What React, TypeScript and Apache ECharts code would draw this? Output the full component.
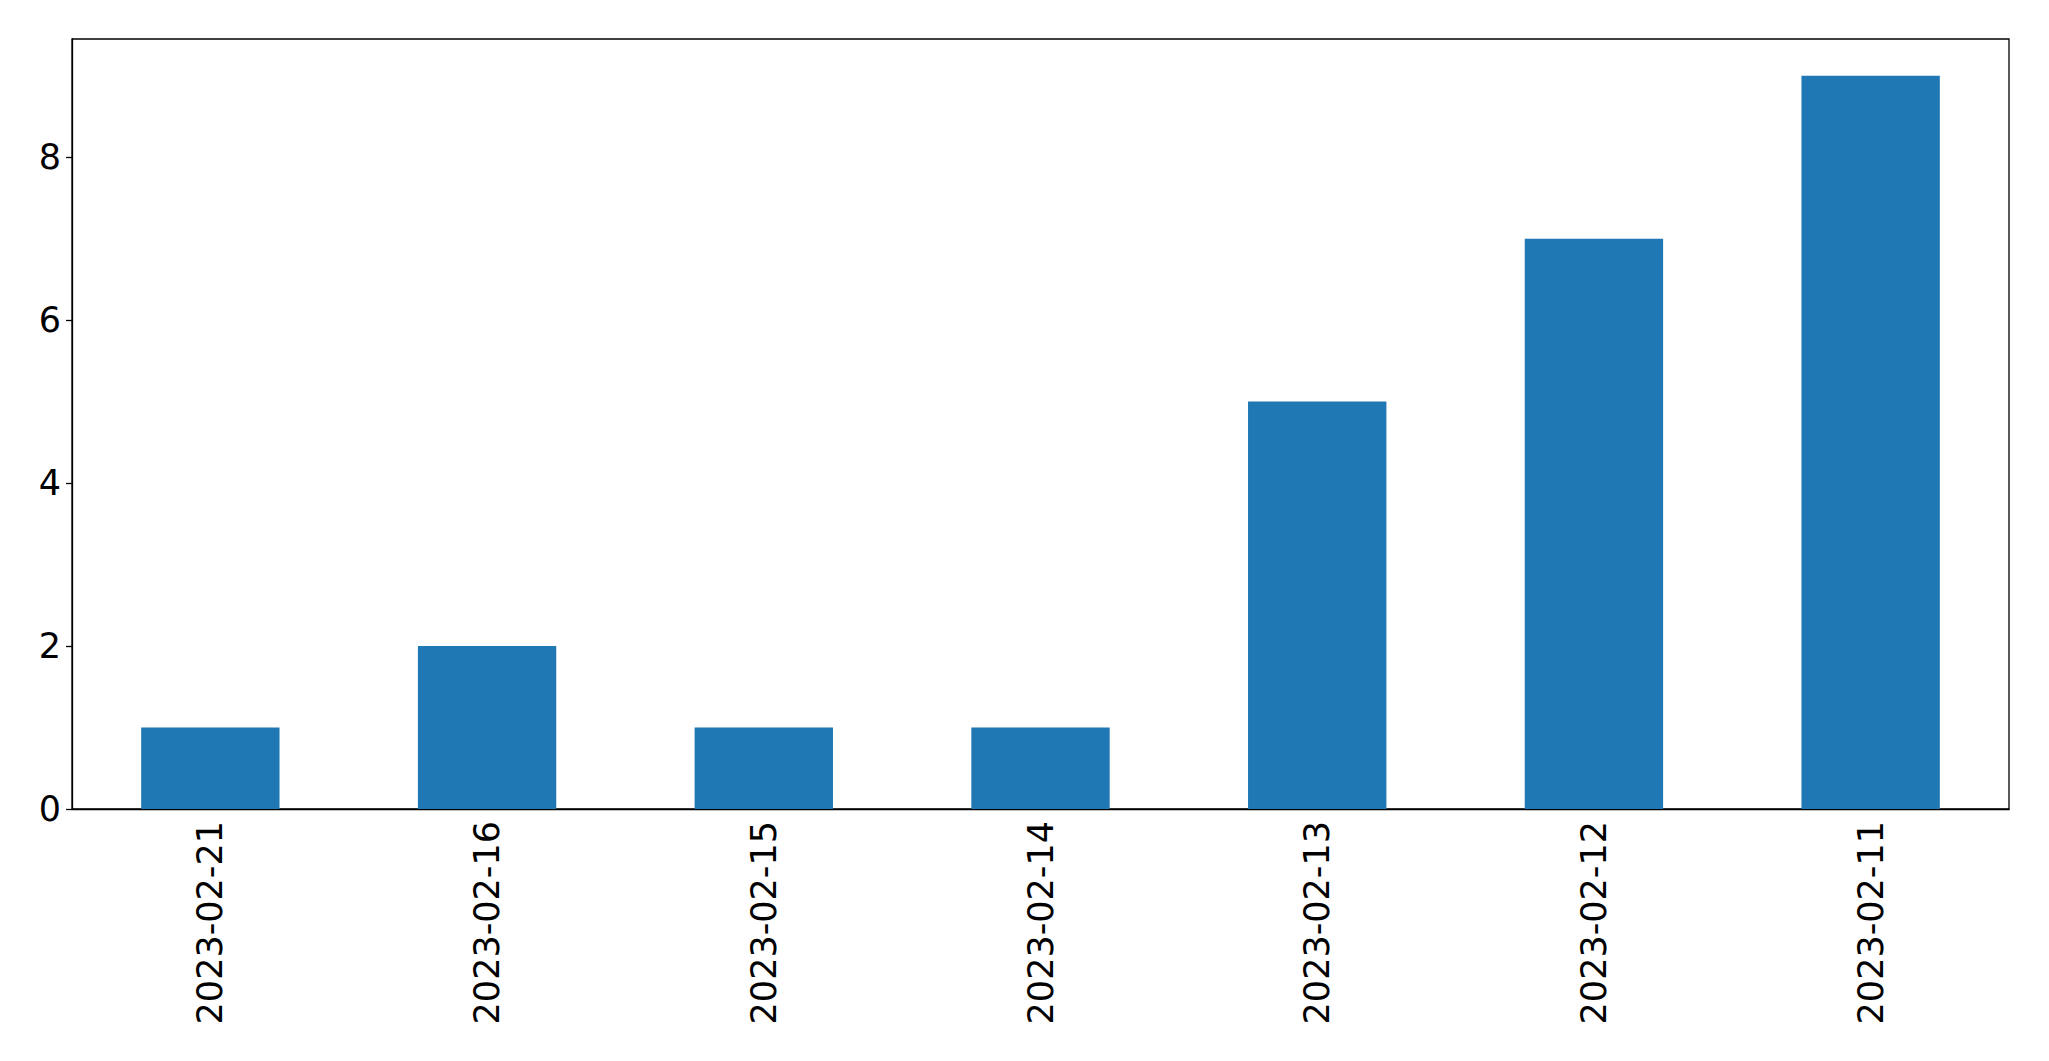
import React, { useEffect, useRef } from "react";
import * as echarts from "echarts";

const categories = ["2023-02-21", "2023-02-16", "2023-02-15", "2023-02-14", "2023-02-13", "2023-02-12", "2023-02-11"];
const values = [1, 2, 1, 1, 5, 7, 9];
const yTicks = [0, 2, 4, 6, 8];

export default function App() {
  const ref = useRef<HTMLDivElement>(null);
  useEffect(() => {
    if (!ref.current) return;
    const chart = echarts.init(ref.current, undefined, { renderer: "svg" });
    const font = "DejaVu Sans";
    chart.setOption({
      animation: false,
      backgroundColor: "#ffffff",
      grid: {
        left: 72,
        top: 39,
        right: 2049 - 2009,
        bottom: 1061 - 809,
        show: true,
        borderColor: "#000000",
        borderWidth: 1.3,
        backgroundColor: "transparent",
      },
      xAxis: {
        type: "category",
        data: categories,
        axisLine: { lineStyle: { color: "#000000", width: 1.3 } },
        axisTick: { alignWithLabel: true, length: 6, lineStyle: { color: "#000000", width: 1.3 } },
        axisLabel: { rotate: 90, fontFamily: font, fontSize: 35, color: "#000000", margin: 12 },
        splitLine: { show: false },
      },
      yAxis: {
        type: "value",
        min: 0,
        max: 9.45,
        interval: 2,
        axisLine: { show: true, lineStyle: { color: "#000000", width: 1.3 } },
        axisTick: { show: true, length: 6, customValues: yTicks, lineStyle: { color: "#000000", width: 1.3 } },
        axisLabel: { fontFamily: font, fontSize: 35, color: "#000000", margin: 11, customValues: yTicks },
        splitLine: { show: false },
      },
      series: [
        {
          type: "bar",
          data: values,
          barWidth: "50%",
          itemStyle: { color: "#1f77b4" },
        },
      ],
    });
    return () => chart.dispose();
  }, []);
  return <div ref={ref} style={{ position: "fixed", left: 0, top: 0, width: 2049, height: 1061 }} />;
}
